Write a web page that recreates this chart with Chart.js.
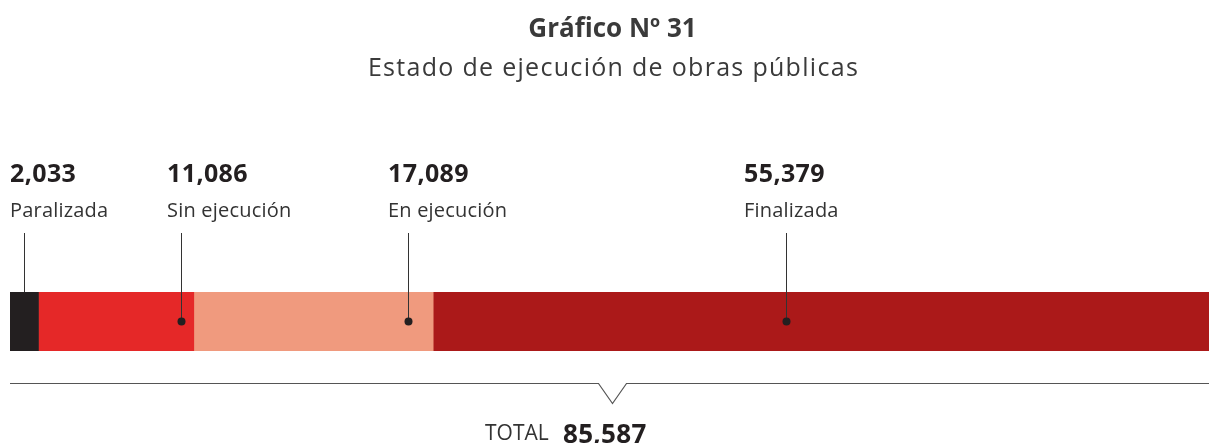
<!DOCTYPE html>
<html lang="es">
<head>
<meta charset="utf-8">
<title>Estado de ejecución de obras públicas</title>
<script src="https://cdn.jsdelivr.net/npm/chart.js@4.4.1/dist/chart.umd.min.js"></script>
<style>
    html, body { margin: 0; padding: 0; background: #fff; }
    #wrap { position: relative; width: 1209px; height: 443px; }
</style>
</head>
<body>
<div id="wrap"><canvas id="obrasChart"></canvas></div>
<script>
const categories = ['Paralizada', 'Sin ejecución', 'En ejecución', 'Finalizada'];
const values = [2033, 11086, 17089, 55379];
const colors = ['#231f20', '#e52828', '#f09a7e', '#ab1919'];

const FONT = '"Open Sans", "Noto Sans", sans-serif';
const TEXT = '#231f20';

// where the leader touches each segment (share of the segment width)
const leaderAt = [0.5, 0.92, 0.895, 0.455];
// how far the label block sits to the left of its leader
const labelShift = [14, 14, 20, 42];

const fmt = n => n.toLocaleString('en-US');
const total = values.reduce((a, b) => a + b, 0);

const annotations = {
    id: 'annotations',
    afterDraw(chart) {
        const ctx = chart.ctx;
        const x = chart.scales.x;
        const area = chart.chartArea;
        const midY = (area.top + area.bottom) / 2;
        const W = chart.width;

        ctx.save();
        ctx.textBaseline = 'alphabetic';

        // titles
        ctx.textAlign = 'center';
        ctx.fillStyle = '#3a3a3a';
        ctx.font = 'bold 26px ' + FONT;
        ctx.letterSpacing = '0px';
        ctx.fillText('Gráfico Nº 31', W / 2 + 8, 37);
        ctx.font = '25px ' + FONT;
        ctx.letterSpacing = '1.3px';
        ctx.fillText('Estado de ejecución de obras públicas', W / 2 + 9, 76);

        // labels with leader lines
        let start = 0;
        values.forEach((v, i) => {
            const x0 = x.getPixelForValue(start);
            const x1 = x.getPixelForValue(start + v);
            const lx = Math.round(x0 + (x1 - x0) * leaderAt[i]) + 0.5;
            start += v;

            ctx.strokeStyle = '#333';
            ctx.lineWidth = 1;
            ctx.beginPath();
            ctx.moveTo(lx, 233);
            ctx.lineTo(lx, i === 0 ? area.top : midY);
            ctx.stroke();
            if (i > 0) {
                ctx.fillStyle = '#231f20';
                ctx.beginPath();
                ctx.arc(lx, midY, 4, 0, Math.PI * 2);
                ctx.fill();
            }

            const tx = lx - 0.5 - labelShift[i];
            ctx.textAlign = 'left';
            ctx.fillStyle = TEXT;
            ctx.font = 'bold 25px ' + FONT;
            ctx.letterSpacing = '0.4px';
            ctx.fillText(fmt(v), tx, 182);
            ctx.fillStyle = '#333';
            ctx.font = '20px ' + FONT;
            ctx.letterSpacing = '0.2px';
            ctx.fillText(categories[i], tx, 217);
        });

        // total bracket
        const nx = (area.left + area.right) / 2 + 3;
        const lineY = 383.5;
        ctx.strokeStyle = '#555';
        ctx.lineWidth = 1.2;
        ctx.beginPath();
        ctx.moveTo(area.left, lineY);
        ctx.lineTo(nx - 14, lineY);
        ctx.lineTo(nx, lineY + 20);
        ctx.lineTo(nx + 14, lineY);
        ctx.lineTo(area.right, lineY);
        ctx.stroke();

        ctx.textAlign = 'left';
        ctx.fillStyle = '#333';
        ctx.font = '21px ' + FONT;
        ctx.letterSpacing = '0px';
        ctx.fillText('TOTAL', 485, 440);
        ctx.fillStyle = TEXT;
        ctx.font = 'bold 26px ' + FONT;
        ctx.letterSpacing = '0.3px';
        ctx.fillText(fmt(total), 563, 443);
        ctx.restore();
    }
};

new Chart(document.getElementById('obrasChart'), {
    type: 'bar',
    data: {
        labels: ['Obras'],
        datasets: values.map((v, i) => ({
            label: categories[i],
            data: [v],
            backgroundColor: colors[i],
            borderWidth: 0,
            barPercentage: 1,
            categoryPercentage: 1
        }))
    },
    options: {
        indexAxis: 'y',
        responsive: true,
        maintainAspectRatio: false,
        animation: false,
        layout: { padding: { top: 292, bottom: 92, left: 10, right: 0 } },
        plugins: {
            legend: { display: false },
            tooltip: { enabled: false }
        },
        scales: {
            x: { stacked: true, display: false, min: 0, max: total },
            y: { stacked: true, display: false }
        }
    },
    plugins: [annotations]
});
</script>
</body>
</html>
